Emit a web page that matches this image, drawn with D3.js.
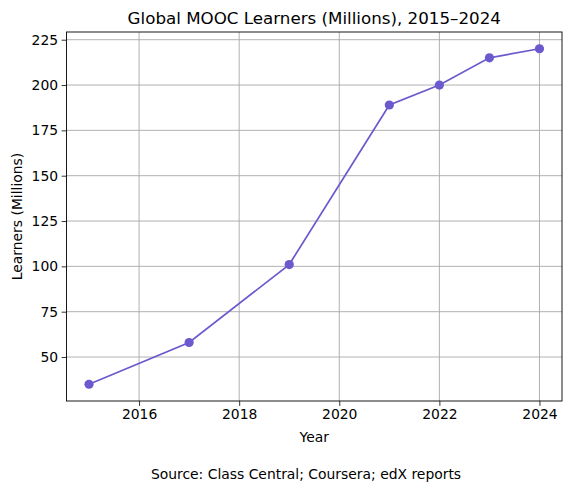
<!DOCTYPE html>
<html>
<head>
<meta charset="utf-8">
<title>Global MOOC Learners</title>
<style>
body { margin: 0; background: #fff; }
text { font-family: "DejaVu Sans", sans-serif; fill: #000; }
</style>
</head>
<body>
<div id="chart"></div>
<script src="https://d3js.org/d3.v7.min.js"></script>
<script>
var years = [2015, 2017, 2019, 2021, 2022, 2023, 2024];
var learners = [35, 58, 101, 189, 200, 215, 220];
var xTicks = [2016, 2018, 2020, 2022, 2024];
var yTicks = [50, 75, 100, 125, 150, 175, 200, 225];

var w = 571, h = 491;
var plotL = 66.5, plotR = 562, plotT = 32, plotB = 401;
var color = "#6a5acd";

var svg = d3.select("#chart").append("svg")
    .attr("width", w)
    .attr("height", h);

var x = d3.scaleLinear().domain([2014.55, 2024.45]).range([plotL, plotR]);
var y = d3.scaleLinear().domain([25.75, 229.25]).range([plotB, plotT]);

// grid
svg.append("g").selectAll("line").data(xTicks).enter().append("line")
    .attr("x1", function(d) { return x(d); })
    .attr("x2", function(d) { return x(d); })
    .attr("y1", plotT).attr("y2", plotB)
    .attr("stroke", "#a8a8a8").attr("stroke-width", 0.9);
svg.append("g").selectAll("line").data(yTicks).enter().append("line")
    .attr("y1", function(d) { return y(d); })
    .attr("y2", function(d) { return y(d); })
    .attr("x1", plotL).attr("x2", plotR)
    .attr("stroke", "#a8a8a8").attr("stroke-width", 0.9);

// axes
var xAxis = svg.append("g")
    .attr("transform", "translate(0," + plotB + ")")
    .call(d3.axisBottom(x).tickValues(xTicks).tickFormat(d3.format("d")).tickSizeOuter(0).tickSize(4.9).tickPadding(3.5));
var yAxis = svg.append("g")
    .attr("transform", "translate(" + plotL + ",0)")
    .call(d3.axisLeft(y).tickValues(yTicks).tickSizeOuter(0).tickSize(4.9).tickPadding(3.5));
[xAxis, yAxis].forEach(function(a) {
    a.select(".domain").remove();
    a.selectAll("line").attr("stroke", "#000").attr("stroke-width", 0.8);
    a.selectAll("text").attr("font-size", "13.9px").attr("font-family", "DejaVu Sans");
});

svg.append("rect")
    .attr("x", plotL).attr("y", plotT)
    .attr("width", plotR - plotL).attr("height", plotB - plotT)
    .attr("fill", "none").attr("stroke", "#000").attr("stroke-width", 0.9);

// line + markers
var pts = years.map(function(d, i) { return [d, learners[i]]; });
svg.append("path")
    .datum(pts)
    .attr("d", d3.line().x(function(d) { return x(d[0]); }).y(function(d) { return y(d[1]); }))
    .attr("fill", "none")
    .attr("stroke", color)
    .attr("stroke-width", 1.7);
svg.append("g").selectAll("circle").data(pts).enter().append("circle")
    .attr("cx", function(d) { return x(d[0]); })
    .attr("cy", function(d) { return y(d[1]); })
    .attr("r", 4.6)
    .attr("fill", color);

// labels
svg.append("text")
    .attr("x", (plotL + plotR) / 2).attr("y", 24)
    .attr("text-anchor", "middle").attr("font-size", "16.7px")
    .text("Global MOOC Learners (Millions), 2015–2024");
svg.append("text")
    .attr("x", (plotL + plotR) / 2).attr("y", 442)
    .attr("text-anchor", "middle").attr("font-size", "13.9px")
    .text("Year");
svg.append("text")
    .attr("transform", "translate(22," + ((plotT + plotB) / 2) + ") rotate(-90)")
    .attr("text-anchor", "middle").attr("font-size", "13.9px")
    .text("Learners (Millions)");
svg.append("text")
    .attr("x", 306).attr("y", 479)
    .attr("text-anchor", "middle").attr("font-size", "13.9px")
    .text("Source: Class Central; Coursera; edX reports");
</script>
</body>
</html>
